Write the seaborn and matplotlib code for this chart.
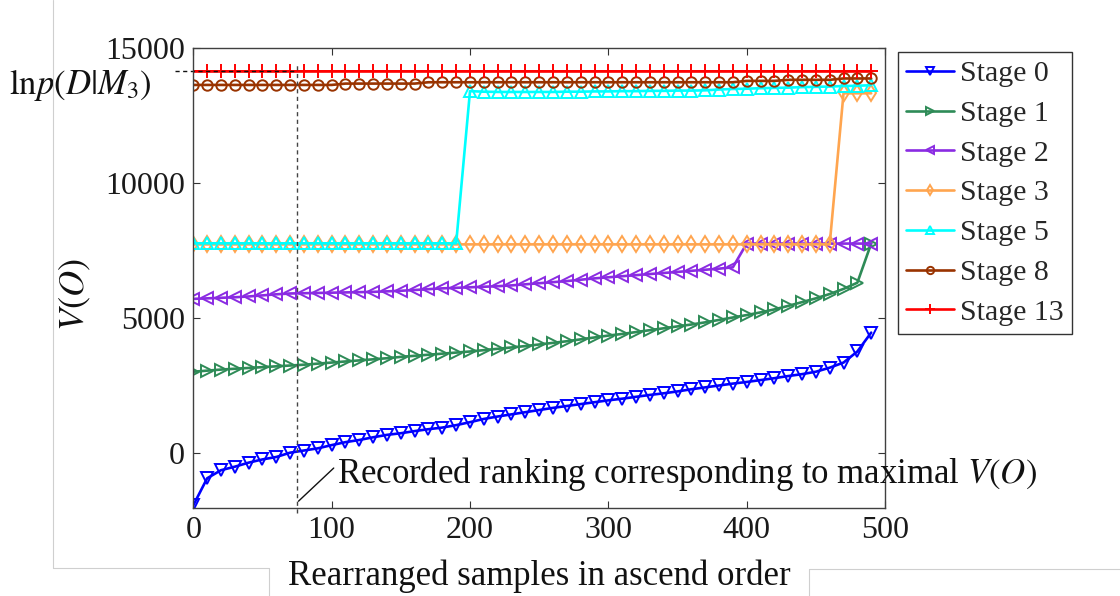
import matplotlib
matplotlib.use("Agg")
import matplotlib.pyplot as plt
import seaborn as sns
import pandas as pd
from matplotlib.lines import Line2D
from matplotlib.transforms import blended_transform_factory

# ---- data -------------------------------------------------------------
samples = list(range(0, 500, 10))

stage0 = [-1950, -950, -650, -520, -370, -250, -160, 0, 80, 160,
          280, 390, 470, 570, 660, 720, 800, 870, 930, 1020,
          1130, 1250, 1340, 1420, 1500, 1580, 1660, 1730, 1800, 1870,
          1940, 2000, 2070, 2140, 2200, 2270, 2350, 2420, 2490, 2560,
          2620, 2690, 2760, 2840, 2910, 3000, 3150, 3340, 3750, 4450]

stage1 = [3000, 3040, 3080, 3110, 3140, 3170, 3200, 3230, 3260, 3300,
          3340, 3380, 3420, 3460, 3500, 3550, 3590, 3630, 3670, 3710,
          3750, 3800, 3850, 3900, 3950, 4010, 4070, 4130, 4200, 4270,
          4340, 4400, 4470, 4540, 4610, 4680, 4750, 4830, 4920, 5010,
          5100, 5200, 5310, 5440, 5580, 5720, 5880, 6070, 6300, 7750]

stage2 = [5700, 5720, 5740, 5760, 5790, 5830, 5870, 5900, 5910, 5920,
          5930, 5940, 5950, 5960, 5980, 6000, 6030, 6060, 6090, 6110,
          6130, 6150, 6170, 6200, 6240, 6280, 6320, 6360, 6410, 6460,
          6500, 6540, 6580, 6620, 6660, 6700, 6740, 6780, 6820, 6870,
          7750, 7750, 7750, 7750, 7750, 7750, 7750, 7750, 7750, 7750]

stage3 = [7720, 7720, 7720, 7720, 7720, 7720, 7720, 7720, 7720, 7720,
          7720, 7720, 7720, 7720, 7720, 7720, 7720, 7720, 7720, 7720,
          7720, 7720, 7720, 7720, 7720, 7720, 7720, 7720, 7720, 7720,
          7720, 7720, 7720, 7720, 7720, 7720, 7720, 7720, 7720, 7720,
          7720, 7720, 7720, 7720, 7720, 7720, 7720, 13320, 13320, 13320]

stage5 = [7760, 7760, 7760, 7760, 7760, 7760, 7760, 7760, 7760, 7760,
          7760, 7760, 7760, 7760, 7760, 7760, 7760, 7760, 7760, 7760,
          13400, 13380, 13370, 13370, 13370, 13370, 13370, 13380, 13380, 13390,
          13390, 13400, 13400, 13410, 13410, 13420, 13420, 13430, 13460, 13480,
          13490, 13510, 13520, 13530, 13550, 13560, 13570, 13590, 13600, 13620]

stage8 = [13630, 13630, 13630, 13630, 13630, 13630, 13630, 13630, 13630, 13630,
          13630, 13680, 13680, 13680, 13680, 13680, 13680, 13730, 13730, 13730,
          13730, 13730, 13730, 13730, 13730, 13730, 13730, 13730, 13730, 13730,
          13730, 13730, 13730, 13730, 13730, 13730, 13730, 13730, 13730, 13730,
          13780, 13780, 13780, 13820, 13820, 13820, 13820, 13870, 13870, 13870]

stage13 = [14150, 14150, 14150, 14150, 14150, 14150, 14150, 14150, 14150, 14150,
           14150, 14150, 14150, 14150, 14150, 14150, 14150, 14150, 14150, 14150,
           14150, 14150, 14150, 14150, 14150, 14150, 14150, 14150, 14150, 14150,
           14150, 14150, 14150, 14150, 14150, 14150, 14150, 14150, 14150, 14150,
           14150, 14150, 14150, 14150, 14150, 14150, 14150, 14150, 14150, 14150]

stage_names = ["Stage 0", "Stage 1", "Stage 2", "Stage 3", "Stage 5", "Stage 8", "Stage 13"]
stage_values = [stage0, stage1, stage2, stage3, stage5, stage8, stage13]

recorded_rank = 75          # ranking with maximal V(O)
lnp_level = 14150           # ln p(D|M3)

x_ticks = [0, 100, 200, 300, 400, 500]
y_ticks = [0, 5000, 10000, 15000]

# ---- style ------------------------------------------------------------
colors = ["#0000FF", "#2E8B57", "#8A2BE2", "#FFA54F", "#00FFFF", "#993300", "#FF0000"]
markers = ["v", ">", "<", "d", "^", "o", "+"]
msizes = [8.5, 8.5, 8.5, 8, 8.5, 7.5, 10]

sns.set_style("ticks")
plt.rcParams["font.family"] = ["Liberation Serif", "DejaVu Serif"]
plt.rcParams["mathtext.fontset"] = "stix"

FS_TICK = 23
FS_TEXT = 25

fig = plt.figure(figsize=(11.2, 5.96), dpi=100)
ax = fig.add_axes([0.1726, 0.1477, 0.6176, 0.7718])

for name, vals, c, m, ms in zip(stage_names, stage_values, colors, markers, msizes):
    df = pd.DataFrame({"sample": samples, "value": vals})
    sns.lineplot(data=df, x="sample", y="value", ax=ax, color=c, marker=m,
                 markersize=ms, markerfacecolor="none", markeredgecolor=c,
                 markeredgewidth=1.4, linewidth=1.9, label=name, legend=False)

ax.set_xlim(0, 500)
ax.set_ylim(-2050, 15000)
ax.set_xticks(x_ticks)
ax.set_yticks(y_ticks)
ax.set_xlabel("")
ax.set_ylabel("")
ax.tick_params(direction="in", length=5, width=0.8, top=True, right=True,
               labelsize=FS_TICK, pad=6, colors="#333333", labelcolor="#1a1a1a")
for sp in ax.spines.values():
    sp.set_color("#404040")
    sp.set_linewidth(1.0)

# reference dashed lines
ax.plot([-13, recorded_rank], [lnp_level, lnp_level], ls="--", dashes=(3, 2.5),
        color="#111111", lw=1.0, clip_on=False)
ax.plot([recorded_rank, recorded_rank], [-2250, 14420], ls="--", dashes=(3, 2.5),
        color="#444444", lw=1.0, clip_on=False)

# annotation
ax.plot([76, 101.5], [-1800, -570], color="#111111", lw=1.0, clip_on=False)
ax.text(104, -1110, "Recorded ranking corresponding to maximal $V(O)$",
        fontsize=FS_TEXT, ha="left", va="baseline", color="#111111")

trans = blended_transform_factory(ax.transAxes, ax.transData)
ax.text(-0.06, 13630, r"$\mathrm{ln}p(D|M_3)$", transform=trans,
        fontsize=FS_TEXT, ha="right", va="center", color="#111111")

fig.text(75 / 1120, 1 - 295 / 596, "$V(O)$", rotation=90, fontsize=FS_TEXT + 1,
         ha="center", va="center", color="#111111")
fig.text(539 / 1120, 1 - 576 / 596, "Rearranged samples in ascend order",
         fontsize=FS_TEXT, ha="center", va="center", color="#111111")

handles, labels = ax.get_legend_handles_labels()
leg = fig.legend(handles, labels, loc="upper left",
                 bbox_to_anchor=(898 / 1120, 1 - 52 / 596),
                 bbox_transform=fig.transFigure, borderaxespad=0,
                 fontsize=21.5, frameon=True, fancybox=False, framealpha=1,
                 edgecolor="#333333", handlelength=1.6, handletextpad=0.2,
                 labelspacing=0.43, borderpad=0.28, markerscale=0.7)
leg.get_frame().set_linewidth(1.0)

# panel frame lines
frame_c = "#cfcfcf"
for xs, ys in [([53, 53], [0, 568]), ([53, 269], [568, 568]), ([269, 269], [568, 596]),
               ([809, 809], [569, 596]), ([809, 1120], [569, 569])]:
    fig.add_artist(Line2D([v / 1120 for v in xs], [1 - v / 596 for v in ys],
                          transform=fig.transFigure, color=frame_c, lw=0.8))

fig.savefig("out.png", dpi=100)
